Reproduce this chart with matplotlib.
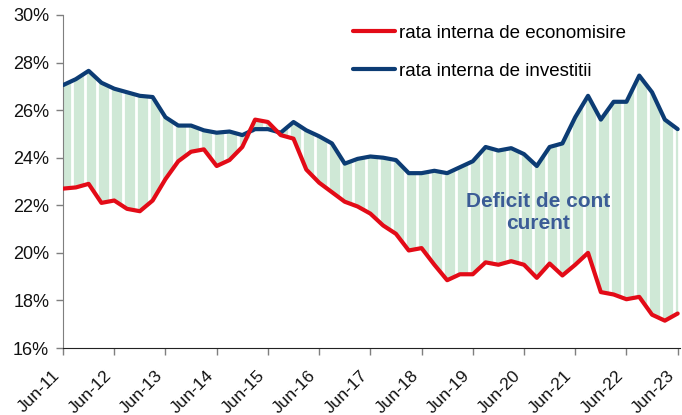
import numpy as np
import matplotlib.pyplot as plt
from matplotlib.ticker import FuncFormatter
from matplotlib.transforms import ScaledTranslation

plt.rcParams['font.family'] = ['Liberation Sans', 'DejaVu Sans']

# quarterly data, Jun-11 .. Jun-23 (% of GDP)
tick_labels = ['Jun-11', 'Jun-12', 'Jun-13', 'Jun-14', 'Jun-15', 'Jun-16', 'Jun-17',
               'Jun-18', 'Jun-19', 'Jun-20', 'Jun-21', 'Jun-22', 'Jun-23']

economisire = [22.7, 22.75, 22.9, 22.1, 22.2, 21.85, 21.75, 22.2,
               23.1, 23.85, 24.25, 24.35, 23.65, 23.9, 24.45, 25.6,
               25.5, 24.95, 24.8, 23.5, 22.95, 22.55, 22.15, 21.95,
               21.65, 21.15, 20.8, 20.1, 20.2, 19.5, 18.85, 19.1,
               19.1, 19.6, 19.5, 19.65, 19.5, 18.95, 19.55, 19.05,
               19.5, 20.0, 18.35, 18.25, 18.05, 18.15, 17.4, 17.15,
               17.45]

investitii = [27.05, 27.3, 27.65, 27.15, 26.9, 26.75, 26.6, 26.55,
              25.7, 25.35, 25.35, 25.15, 25.05, 25.1, 24.95, 25.2,
              25.2, 25.05, 25.5, 25.15, 24.9, 24.6, 23.75, 23.95,
              24.05, 24.0, 23.9, 23.35, 23.35, 23.45, 23.35, 23.6,
              23.85, 24.45, 24.3, 24.4, 24.15, 23.65, 24.45, 24.6,
              25.7, 26.6, 25.6, 26.35, 26.35, 27.45, 26.75, 25.6,
              25.2]

sav = np.array(economisire)
inv = np.array(investitii)
x = np.arange(len(sav))

fig = plt.figure(figsize=(6.82, 4.15), dpi=100)
ax = fig.add_axes([0.0924, 0.1614, 0.905, 0.8026])

# green deficit area with white vertical stripes
ax.fill_between(x, np.minimum(sav, inv), np.maximum(sav, inv),
                color='#cfe8d6', lw=0, zorder=1)
for xs in x[:-1] + 0.68:
    ax.axvline(xs, color='white', lw=2.0, zorder=2)

ax.plot(x, sav, color='#e30b17', lw=3, solid_joinstyle='round',
        solid_capstyle='round', zorder=4, label='rata interna de economisire')
ax.plot(x, inv, color='#0c3c74', lw=3, solid_joinstyle='round',
        solid_capstyle='round', zorder=3, label='rata interna de investitii')

ax.text(37.1, 21.7, 'Deficit de cont\ncurent', ha='center', va='center',
        fontsize=15, fontweight='bold', color='#3b5c96', linespacing=1.2,
        zorder=5)

ax.set_xlim(0, 48.2)
ax.set_ylim(16, 30)
ax.set_yticks(np.arange(16, 31, 2))
ax.yaxis.set_major_formatter(FuncFormatter(lambda v, p: '%d%%' % v))
ax.set_xticks(np.arange(0, 49, 4))
ax.set_xticklabels(tick_labels, rotation=45, ha='right', va='center',
                   rotation_mode='anchor')
ax.tick_params(axis='both', labelsize=13, colors='#111111', length=5,
               width=1, direction='out')
ax.tick_params(axis='x', labelsize=12.5, color='#7f7f7f', pad=13)
ax.tick_params(axis='y', color='#7f7f7f', pad=5)
shift = ScaledTranslation(-0.055, 0, fig.dpi_scale_trans)
for lab in ax.get_xticklabels():
    lab.set_transform(lab.get_transform() + shift)

for s in ['top', 'right']:
    ax.spines[s].set_visible(False)
ax.spines['left'].set_color('#7f7f7f')
ax.spines['bottom'].set_color('#222222')

leg = fig.legend(loc='upper left', bbox_to_anchor=(0.506, 0.958), frameon=False,
                 fontsize=13.5, handlelength=2.25, handletextpad=0.2,
                 labelspacing=1.1, borderaxespad=0)

fig.savefig('out.png', dpi=100)
